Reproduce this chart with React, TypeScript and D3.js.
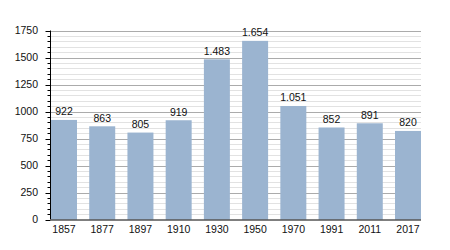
import React from "react";
import * as d3 from "d3";

const years = ["1857", "1877", "1897", "1910", "1930", "1950", "1970", "1991", "2011", "2017"];
const population = [922, 863, 805, 919, 1483, 1654, 1051, 852, 891, 820];
const yMajorTicks = [0, 250, 500, 750, 1000, 1250, 1500, 1750];

const W = 450;
const H = 250;
const left = 50.5;
const right = 421;
const top = 30.5;
const bottom = 219.5;

const fmt = (v: number) => {
  const s = String(v);
  return s.length > 3 ? s.slice(0, s.length - 3) + "." + s.slice(s.length - 3) : s;
};

export default function App() {
  const x = d3.scaleBand<string>().domain(years).range([left + 0.5, right]).paddingInner(0.32).paddingOuter(0);
  const y = d3.scaleLinear().domain([0, 1750]).range([bottom, top]);
  const minor = d3.range(0, 1751, 50);
  const font = "'Liberation Sans', Arial, sans-serif";
  return (
    <svg width={W} height={H} style={{ position: "absolute", left: 0, top: 0, background: "#fff" }} fontFamily={font}>
      {minor.filter((v) => v % 250 !== 0).map((v) => (
        <line key={"m" + v} x1={left} x2={right} y1={Math.round(y(v)) + 0.5} y2={Math.round(y(v)) + 0.5} stroke="#e2e2e2" strokeWidth={1} />
      ))}
      {yMajorTicks.filter((v) => v > 0).map((v) => (
        <line key={"M" + v} x1={left} x2={right} y1={Math.round(y(v)) + 0.5} y2={Math.round(y(v)) + 0.5} stroke="#ababab" strokeWidth={1} />
      ))}
      {years.map((yr, i) => (
        <rect key={yr} x={x(yr)} y={y(population[i])} width={x.bandwidth()} height={bottom - y(population[i])} fill="#9bb4d0" />
      ))}
      {years.map((yr, i) => (
        <text key={"l" + yr} x={(x(yr) as number) + x.bandwidth() / 2} y={y(population[i]) - 4.5} textAnchor="middle" fontSize={10.5} fill="#111">
          {fmt(population[i])}
        </text>
      ))}
      {minor.map((v) => (
        <line key={"t" + v} x1={v % 250 === 0 ? left - 5 : left - 3} x2={left} y1={Math.round(y(v)) + 0.5} y2={Math.round(y(v)) + 0.5} stroke="#000" strokeWidth={1} />
      ))}
      <line x1={left} x2={left} y1={top} y2={bottom} stroke="#000" strokeWidth={1} />
      <line x1={left} x2={right} y1={bottom + 0.5} y2={bottom + 0.5} stroke="#000" strokeWidth={1} />
      {yMajorTicks.map((v) => (
        <text key={"y" + v} x={38} y={y(v) + 3.8} textAnchor="end" fontSize={10.5} fill="#111">
          {v}
        </text>
      ))}
      {years.map((yr) => (
        <text key={"x" + yr} x={(x(yr) as number) + x.bandwidth() / 2} y={233} textAnchor="middle" fontSize={10.5} fill="#111">
          {yr}
        </text>
      ))}
    </svg>
  );
}
